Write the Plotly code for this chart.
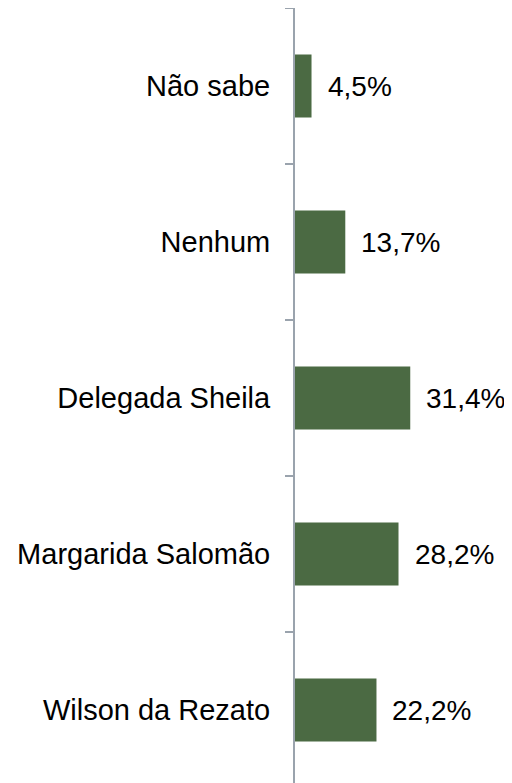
import plotly.graph_objects as go

categories = ["Wilson da Rezato", "Margarida Salomão", "Delegada Sheila", "Nenhum", "Não sabe"]
values = [22.2, 28.2, 31.4, 13.7, 4.5]
value_labels = ["22,2%", "28,2%", "31,4%", "13,7%", "4,5%"]

fig = go.Figure()
fig.add_trace(go.Bar(
    x=values, y=categories, orientation="h",
    marker=dict(color="#4b6a43", line=dict(width=0)),
    hoverinfo="skip",
))

for c, v, t in zip(categories, values, value_labels):
    fig.add_annotation(x=v, y=c, text=t, showarrow=False, xanchor="left",
                       xshift=14, font=dict(family="Liberation Sans, Arial", size=28, color="#000000"))

fig.update_layout(
    width=512, height=783,
    margin=dict(l=287, r=0, t=0, b=0),
    paper_bgcolor="white", plot_bgcolor="white",
    showlegend=False, bargap=0.595,
    font=dict(family="Liberation Sans, Arial", size=28, color="#000000"),
    xaxis=dict(range=[0, 61.3], visible=False, fixedrange=True),
    yaxis=dict(
        type="category", categoryorder="array", categoryarray=categories,
        range=[-0.519, 4.5], tickson="boundaries", ticks="outside", ticklen=8,
        tickcolor="#9aa3ad", tickwidth=2, showline=True, linecolor="#9aa3ad",
        linewidth=2, showgrid=False, ticklabelstandoff=17, automargin=False,
        tickfont=dict(family="Liberation Sans, Arial", size=29, color="#000000"),
    ),
)

fig.write_html("out.html")
